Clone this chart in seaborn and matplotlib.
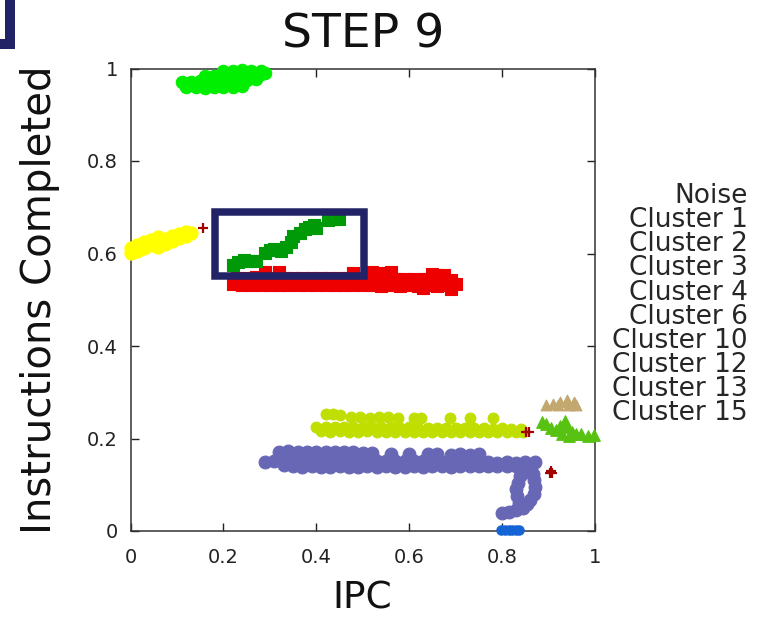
import matplotlib
matplotlib.use("Agg")
import matplotlib.pyplot as plt
from matplotlib.patches import Rectangle
import seaborn as sns
import pandas as pd

# ---------------- data ----------------
title_text = "STEP 9"
x_label = "IPC"
y_label = "Instructions Completed"
tick_values = [0, 0.2, 0.4, 0.6, 0.8, 1]
tick_labels = ["0", "0.2", "0.4", "0.6", "0.8", "1"]
legend_order = ["Noise", "Cluster 1", "Cluster 2", "Cluster 3", "Cluster 4",
                "Cluster 6", "Cluster 10", "Cluster 12", "Cluster 13", "Cluster 15"]

noise_x = [0.156, 0.851, 0.857, 0.904, 0.907, 0.905]
noise_y = [0.655, 0.215, 0.215, 0.125, 0.125, 0.129]

# Cluster 1: blue-violet band with hook
c1_x = [0.29, 0.31, 0.33, 0.35, 0.37, 0.39, 0.41, 0.43, 0.45, 0.47, 0.49, 0.51, 0.53, 0.55, 0.57,
        0.59, 0.61, 0.63, 0.65, 0.67, 0.69, 0.71, 0.73, 0.75, 0.77, 0.79, 0.81, 0.83, 0.85, 0.87,
        0.33, 0.35, 0.37, 0.39, 0.41, 0.43, 0.45, 0.47, 0.49, 0.51, 0.53, 0.55, 0.57, 0.59, 0.61,
        0.63, 0.65, 0.67, 0.69, 0.71, 0.73, 0.75, 0.77, 0.79, 0.81, 0.83,
        0.32, 0.34, 0.36, 0.38, 0.40, 0.42, 0.44, 0.46, 0.48, 0.50, 0.52, 0.56, 0.60, 0.64, 0.66,
        0.69, 0.71, 0.73, 0.75,
        0.862, 0.866, 0.868, 0.870, 0.868, 0.860, 0.850, 0.853, 0.838, 0.834, 0.830, 0.832, 0.836,
        0.845, 0.830, 0.815, 0.800]
c1_y = [0.150, 0.152, 0.153, 0.152, 0.154, 0.152, 0.153, 0.152, 0.151, 0.152, 0.153, 0.152, 0.151, 0.152, 0.152,
        0.151, 0.152, 0.151, 0.150, 0.150, 0.151, 0.150, 0.149, 0.149, 0.150, 0.148, 0.149, 0.148, 0.149, 0.150,
        0.142, 0.140, 0.139, 0.140, 0.139, 0.139, 0.140, 0.139, 0.139, 0.140, 0.139, 0.140, 0.139, 0.139, 0.140,
        0.139, 0.140, 0.140, 0.139, 0.140, 0.140, 0.141, 0.140, 0.140, 0.140, 0.141,
        0.170, 0.172, 0.171, 0.170, 0.171, 0.170, 0.170, 0.171, 0.170, 0.168, 0.168, 0.167, 0.166, 0.167, 0.166,
        0.165, 0.166, 0.165, 0.166,
        0.138, 0.124, 0.110, 0.095, 0.080, 0.068, 0.127, 0.058, 0.118, 0.104, 0.090, 0.075, 0.060,
        0.050, 0.045, 0.041, 0.040]

# Cluster 2: yellow-green band
c2_x = [0.40, 0.42, 0.44, 0.46, 0.48, 0.50, 0.52, 0.54, 0.56, 0.58, 0.60, 0.62, 0.64, 0.66, 0.68,
        0.70, 0.72, 0.74, 0.76, 0.78, 0.80, 0.82, 0.84,
        0.41, 0.43, 0.45, 0.47, 0.49, 0.51, 0.53, 0.55, 0.57, 0.59, 0.61, 0.63, 0.65, 0.67, 0.69,
        0.71, 0.73, 0.75, 0.77, 0.79, 0.81, 0.83, 0.845,
        0.42, 0.435, 0.45, 0.475, 0.495, 0.515, 0.535, 0.555, 0.575, 0.61, 0.625, 0.687, 0.73, 0.78]
c2_y = [0.224, 0.225, 0.224, 0.225, 0.224, 0.224, 0.225, 0.224, 0.224, 0.223, 0.224, 0.223, 0.223, 0.222, 0.223,
        0.222, 0.222, 0.223, 0.222, 0.221, 0.222, 0.221, 0.220,
        0.216, 0.215, 0.216, 0.215, 0.215, 0.216, 0.215, 0.215, 0.215, 0.214, 0.215, 0.214, 0.214, 0.214, 0.214,
        0.213, 0.214, 0.213, 0.214, 0.213, 0.213, 0.214, 0.215,
        0.252, 0.253, 0.250, 0.246, 0.246, 0.245, 0.246, 0.246, 0.245, 0.245, 0.245, 0.244, 0.244, 0.244]

# Cluster 3: red band
c3_x = [0.23, 0.25, 0.27, 0.29, 0.31, 0.33, 0.35, 0.37, 0.39, 0.41, 0.43, 0.45, 0.47, 0.49, 0.51,
        0.53, 0.55, 0.57, 0.59, 0.61, 0.63, 0.65, 0.67, 0.69,
        0.22, 0.24, 0.26, 0.28, 0.30, 0.32, 0.34, 0.36, 0.38, 0.40, 0.42, 0.44, 0.46, 0.48, 0.50,
        0.52, 0.54, 0.56, 0.58, 0.60, 0.62, 0.64, 0.66, 0.68, 0.70,
        0.29, 0.32, 0.48, 0.52, 0.54, 0.56, 0.65, 0.675, 0.69, 0.63]
c3_y = [0.546, 0.548, 0.549, 0.550, 0.548, 0.547, 0.548, 0.547, 0.547, 0.546, 0.547, 0.546, 0.546, 0.545, 0.546,
        0.545, 0.546, 0.545, 0.545, 0.545, 0.544, 0.545, 0.544, 0.543,
        0.533, 0.532, 0.532, 0.531, 0.532, 0.531, 0.532, 0.531, 0.531, 0.532, 0.531, 0.531, 0.531, 0.532, 0.531,
        0.531, 0.530, 0.531, 0.530, 0.531, 0.530, 0.531, 0.530, 0.531, 0.535,
        0.560, 0.561, 0.558, 0.559, 0.558, 0.559, 0.556, 0.553, 0.524, 0.525]

# Cluster 4: dark green steps
c4_x = [0.220, 0.232, 0.245, 0.258, 0.270, 0.290, 0.300, 0.310, 0.325, 0.335, 0.345, 0.350,
        0.365, 0.375, 0.385, 0.395, 0.400, 0.425, 0.437, 0.448]
c4_y = [0.575, 0.582, 0.585, 0.584, 0.583, 0.602, 0.608, 0.610, 0.606, 0.615, 0.625, 0.638,
        0.645, 0.652, 0.658, 0.662, 0.655, 0.673, 0.674, 0.675]

# Cluster 6: yellow streak
c6_x = [0.000, 0.000, 0.015, 0.015, 0.030, 0.030, 0.045, 0.045, 0.060, 0.060, 0.060, 0.075, 0.075,
        0.090, 0.090, 0.105, 0.105, 0.120, 0.120, 0.130]
c6_y = [0.602, 0.612, 0.606, 0.618, 0.612, 0.624, 0.618, 0.630, 0.613, 0.625, 0.635, 0.620, 0.632,
        0.627, 0.638, 0.633, 0.642, 0.638, 0.646, 0.645]

# Cluster 10: bright green blob at the top
c10_x = [0.12, 0.14, 0.16, 0.18, 0.20, 0.22, 0.24,
         0.11, 0.13, 0.15, 0.17, 0.19, 0.21, 0.23, 0.25, 0.27,
         0.16, 0.18, 0.20, 0.22, 0.24, 0.26, 0.28, 0.29,
         0.20, 0.22, 0.24, 0.26, 0.28]
c10_y = [0.960, 0.959, 0.958, 0.959, 0.959, 0.960, 0.962,
         0.970, 0.971, 0.972, 0.972, 0.972, 0.973, 0.974, 0.975, 0.978,
         0.983, 0.984, 0.985, 0.986, 0.986, 0.987, 0.988, 0.990,
         0.994, 0.995, 0.996, 0.995, 0.994]

# Cluster 12: blue bar on the x axis
c12_x = [0.798, 0.806, 0.814, 0.822, 0.830, 0.836]
c12_y = [0.002, 0.002, 0.002, 0.002, 0.002, 0.002]

# Cluster 13: green triangles
c13_x = [0.885, 0.895, 0.905, 0.915, 0.925, 0.935, 0.940, 0.950, 0.960, 0.970, 0.985, 0.998, 0.930, 0.945]
c13_y = [0.235, 0.232, 0.222, 0.218, 0.228, 0.238, 0.225, 0.215, 0.210, 0.210, 0.205, 0.207, 0.210, 0.205]

# Cluster 15: tan triangles
c15_x = [0.895, 0.910, 0.925, 0.940, 0.955, 0.960, 0.920, 0.945]
c15_y = [0.272, 0.275, 0.280, 0.283, 0.278, 0.272, 0.272, 0.272]

# annotation box (data units)
box_x = [0.182, 0.502]
box_y = [0.552, 0.690]

# ---------------- styling ----------------
clusters = [
    ("Cluster 1", c1_x, c1_y, "#6767b5", "o", 85),
    ("Cluster 2", c2_x, c2_y, "#c0de00", "o", 60),
    ("Cluster 3", c3_x, c3_y, "#ee0000", "s", 78),
    ("Cluster 4", c4_x, c4_y, "#009a08", "s", 70),
    ("Cluster 6", c6_x, c6_y, "#ffff00", "o", 90),
    ("Cluster 10", c10_x, c10_y, "#00ee00", "o", 80),
    ("Cluster 12", c12_x, c12_y, "#1464d6", "o", 45),
    ("Cluster 13", c13_x, c13_y, "#58c212", "^", 70),
    ("Cluster 15", c15_x, c15_y, "#c2a86e", "^", 60),
]

sns.set_style("ticks")
plt.rcParams["font.family"] = ["DejaVu Sans"]

fig = plt.figure(figsize=(7.64, 6.18), dpi=100)
ax = fig.add_axes([130.5 / 764, 1 - 531 / 618, 464.5 / 764, 462.5 / 618])

for name, xs, ys, col, mk, sz in clusters:
    df = pd.DataFrame({"x": xs, "y": ys})
    sns.scatterplot(data=df, x="x", y="y", ax=ax, color=col, marker=mk, s=sz,
                    edgecolor=col, linewidth=0.8, label=name, clip_on=False, zorder=3)

ndf = pd.DataFrame({"x": noise_x, "y": noise_y})
sns.scatterplot(data=ndf, x="x", y="y", ax=ax, color="#a30000", marker="+", s=60,
                linewidth=1.6, label="Noise", clip_on=False, zorder=4)

ax.add_patch(Rectangle((box_x[0], box_y[0]), box_x[1] - box_x[0], box_y[1] - box_y[0],
                       fill=False, edgecolor="#222266", linewidth=5.4, zorder=5))

ax.set_xlim(0, 1)
ax.set_ylim(0, 1)
ax.set_xticks(tick_values)
ax.set_xticklabels(tick_labels)
ax.set_yticks(tick_values)
ax.set_yticklabels(tick_labels)
ax.tick_params(direction="in", length=6, width=1, top=True, right=True,
               labelsize=14, colors="#222222")
ax.tick_params(axis="x", pad=12)
ax.tick_params(axis="y", pad=9)
for sp in ax.spines.values():
    sp.set_visible(True)
    sp.set_linewidth(1.1)
    sp.set_color("#333333")

ax.set_title(title_text, fontsize=34, pad=15, color="#111111")
ax.set_xlabel(x_label, fontsize=27, color="#111111")
ax.set_ylabel(y_label, fontsize=29, color="#111111")
ax.xaxis.set_label_coords(0.5, -0.108)
ax.yaxis.set_label_coords(-0.152, 0.5)

handles, labels = ax.get_legend_handles_labels()
if ax.get_legend() is not None:
    ax.get_legend().remove()
hmap = dict(zip(labels, handles))
leg = fig.legend([hmap[l] for l in legend_order], legend_order,
                 loc="upper right", bbox_to_anchor=(748 / 764, 1 - 183 / 618),
                 frameon=False, markerfirst=False, handlelength=0, handletextpad=0,
                 borderpad=0, borderaxespad=0, labelspacing=-0.07, fontsize=19)
for h in leg.legend_handles:
    h.set_visible(False)

# slide frame corner at top-left
fig.add_artist(Rectangle((-0.05, 1 - 44 / 618), 0.05 + 10 / 764, 0.2,
                         transform=fig.transFigure, fill=False,
                         edgecolor="#222266", linewidth=7.2, clip_on=False))

fig.savefig("out.png", dpi=100, facecolor="white")
